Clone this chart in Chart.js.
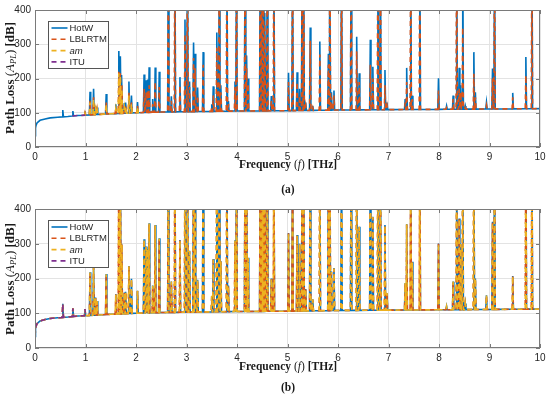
<!DOCTYPE html>
<html><head><meta charset="utf-8">
<script src="https://cdn.jsdelivr.net/npm/chart.js@4"></script>
<style>
html,body{margin:0;padding:0;background:#fff;}
#wrap{position:relative;width:550px;height:399px;overflow:hidden;background:#fff;}
canvas{position:absolute;left:0;}
.t{position:absolute;font-family:"Liberation Serif","DejaVu Serif",serif;font-size:11.5px;color:#1a1a1a;white-space:nowrap;line-height:1;}
.t b{font-weight:bold;}
.t sub{font-size:0.65em;vertical-align:-2px;font-style:italic;}
.yt{font-size:13px;transform:translate(-50%,-50%) rotate(-90deg);}
.xt{transform:translate(-50%,-50%);}
</style></head>
<body><div id="wrap">
<canvas id="ca" width="550" height="180" style="top:0px"></canvas>
<canvas id="cb" width="550" height="180" style="top:198px"></canvas>
<div class="t yt" style="left:10px;top:78px"><b>Path Loss</b> (<i>A</i><sub>PL</sub>) <b>[dB]</b></div>
<div class="t xt" style="left:288px;top:165px"><b>Frequency</b> (<i>f</i>) <b>[THz]</b></div>
<div class="t xt" style="left:288px;top:190px"><b>(a)</b></div>
<div class="t yt" style="left:10px;top:279px"><b>Path Loss</b> (<i>A</i><sub>PL</sub>) <b>[dB]</b></div>
<div class="t xt" style="left:288px;top:367px"><b>Frequency</b> (<i>f</i>) <b>[THz]</b></div>
<div class="t xt" style="left:288px;top:388px"><b>(b)</b></div>
</div>
<script>
// ---------- data ----------
const seriesNames = ['HotW', 'LBLRTM', 'am', 'ITU'];
const xTicks = [0,1,2,3,4,5,6,7,8,9,10];
const yTicks = [0,100,200,300,400];

// smooth continuum (baseline) path loss [dB]
const baseFreq = [0,0.01,0.02,0.04,0.1,0.2,0.3,0.45,0.65,0.85,1.0,1.25,1.5,2.0,2.5,3.0,4.0,5.0,6.0,7.0,8.0,9.0,10.0];
const baseLoss = [33,55,63,70,78,82,85,87,89,92,93,95,97,100,102,103,105,106,108,109,110,111,112];

// absorption line centres [THz]
const lineFreq = [
 0.55,0.75,0.99,1.09,1.16,1.20,1.23,1.41,1.60,1.66,
 1.69,1.72,1.77,1.80,1.86,1.91,2.03,2.16,2.20,2.23,
 2.26,2.33,2.38,2.46,2.64,2.70,2.77,2.87,2.97,3.02,
 3.06,3.14,3.17,3.22,3.33,3.50,3.53,3.60,3.65,3.68,
 3.80,3.83,3.96,3.99,4.16,4.19,4.22,4.46,4.49,4.52,
 4.55,4.60,4.68,4.73,5.02,5.10,5.19,5.24,5.29,5.32,
 5.36,5.45,5.50,5.64,5.81,5.84,5.87,5.92,6.07,6.26,
 6.37,6.42,6.64,6.69,6.79,6.84,6.93,6.97,7.33,7.36,
 7.44,7.47,7.62,7.99,8.15,8.28,8.35,8.40,8.43,8.47,
 8.52,8.69,8.72,8.94,9.06,9.10,9.46,9.72,9.84];

// peak path loss at each line [dB] (values above 400 are off-scale)
// panel (a)
const hotwA = [
 108,105,104,161,170,120,115,155,125,280,
 265,210,128,130,191,150,131,212,195,197,
 233,140,232,220,600,148,600,204,372,600,
 191,305,272,174,277,125,177,334,600,180,
 600,134,191,600,600,267,200,600,600,600,
 391,600,149,600,217,600,218,170,600,600,
 130,349,120,308,272,600,160,165,600,600,
 322,215,313,234,600,600,225,130,140,231,
 600,150,600,201,120,150,600,231,180,600,
 120,277,160,130,229,600,158,263,600];
const lblA = [
 null,null,100,135,145,112,110,130,115,220,
 215,180,118,120,160,130,120,170,160,165,
 180,125,190,175,600,135,600,180,330,600,
 175,260,230,150,240,118,150,290,600,160,
 600,125,175,600,600,230,185,600,600,600,
 360,600,135,600,190,600,190,150,600,600,
 122,310,115,270,240,600,145,150,600,600,
 280,190,240,200,600,600,180,122,130,190,
 600,140,600,165,115,140,600,170,160,350,
 115,214,145,122,200,600,145,210,600];
const amA = [
 null,null,99,130,140,110,108,125,112,215,
 205,170,115,118,150,125,118,null,null,null,
 null,null,null,null,null,null,null,null,null,null,
 null,null,null,null,null,null,null,null,null,null,
 null,null,null,null,null,null,null,null,null,null,
 null,null,null,null,null,null,null,null,null,null,
 null,null,null,null,null,null,null,null,null,null,
 null,null,null,null,null,null,null,null,null,null,
 null,null,null,null,null,null,null,null,null,null,
 null,null,null,null,null,null,null,null,null];
const ituA = [
 null,null,null,null,null,null,null,null,null,null,
 null,null,null,null,null,null,null,null,null,null,
 null,null,null,null,null,null,null,null,null,null,
 null,null,null,null,null,null,null,null,null,null,
 null,null,null,null,null,null,null,null,null,null,
 null,null,null,null,null,null,null,null,null,null,
 null,null,null,null,null,null,null,null,null,null,
 null,null,null,null,null,null,null,null,null,null,
 null,null,null,null,null,null,null,null,null,null,
 null,null,null,null,null,null,null,null,null];
// panel (b)
const hotwB = [
 127,114,112,218,234,145,135,213,155,600,
 600,300,160,162,236,199,165,313,292,285,
 359,180,354,316,600,191,600,311,600,600,
 280,600,600,196,600,150,256,600,600,250,
 600,180,310,600,600,600,260,600,600,600,
 600,600,200,600,331,600,325,300,600,600,
 170,600,140,600,600,600,220,230,600,600,
 600,349,600,378,600,600,354,158,187,357,
 600,248,600,301,120,191,600,373,300,600,
 128,600,200,152,363,600,207,600,600];
const lblB = [
 126,114,112,216,232,144,134,211,154,600,
 600,298,158,160,234,198,164,312,290,284,
 357,178,352,314,600,190,600,309,600,600,
 278,600,600,194,600,149,254,600,600,248,
 600,178,308,600,600,600,258,600,600,600,
 600,600,198,600,330,600,323,298,600,600,
 168,600,139,600,600,600,218,228,600,600,
 600,348,600,376,600,600,352,157,186,355,
 600,246,600,300,119,190,600,371,298,600,
 127,600,198,151,361,600,206,600,600];
const amB = [
 127,115,112,217,233,145,135,212,155,600,
 600,299,159,161,235,199,165,313,291,285,
 358,179,353,315,600,191,600,310,600,600,
 279,600,600,195,600,150,255,600,600,249,
 600,179,309,600,600,600,259,600,600,600,
 600,600,199,600,331,600,324,299,600,600,
 169,600,140,600,600,600,219,229,600,600,
 600,349,600,377,600,600,353,158,187,356,
 600,247,600,301,120,191,600,372,299,600,
 128,600,199,152,362,600,207,600,600];
const ituB = [
 127,114,112,null,null,null,null,null,null,null,
 null,null,null,null,null,null,null,null,null,null,
 null,null,null,null,null,null,null,null,null,null,
 null,null,null,null,null,null,null,null,null,null,
 null,null,null,null,null,null,null,null,null,null,
 null,null,null,null,null,null,null,null,null,null,
 null,null,null,null,null,null,null,null,null,null,
 null,null,null,null,null,null,null,null,null,null,
 null,null,null,null,null,null,null,null,null,null,
 null,null,null,null,null,null,null,null,null];

// frequency span [THz] covered by each series in each panel
const spanA = {HotW:[0,10], LBLRTM:[0.98,10], am:[0.98,2.06], ITU:[0.74,1.0]};
const spanB = {HotW:[0,10], LBLRTM:[0,10], am:[0,10], ITU:[0,1.0]};

// ---------- drawing ----------
const COLORS = {HotW:'#0072BD', LBLRTM:'#D95319', am:'#EDB120', ITU:'#7E2F8E'};
const DASH = {HotW:[], LBLRTM:[5,4], am:[5,4], ITU:[5,4]};
const HW = 0.013;

function baseAt(f){
  for(let i=1;i<baseFreq.length;i++){
    if(f<=baseFreq[i]){
      const t=(f-baseFreq[i-1])/(baseFreq[i]-baseFreq[i-1]);
      return baseLoss[i-1]+t*(baseLoss[i]-baseLoss[i-1]);
    }
  }
  return baseLoss[baseLoss.length-1];
}
function buildSeries(peaks, span){
  const lo=span[0], hi=span[1];
  const pts=[];
  const active=[];
  lineFreq.forEach((f,i)=>{ if(peaks[i]!=null && f>=lo && f<=hi) active.push(i); });
  baseFreq.forEach((f,i)=>{
    if(f<lo||f>hi) return;
    if(active.some(j=>Math.abs(lineFreq[j]-f)<=HW*1.5)) return;
    pts.push({x:f,y:baseLoss[i]});
  });
  active.forEach(i=>{
    const f=lineFreq[i];
    pts.push({x:f-HW,y:baseAt(f-HW)},{x:f,y:peaks[i]},{x:f+HW,y:baseAt(f+HW)});
  });
  if(!pts.some(p=>p.x===lo)) pts.push({x:lo,y:baseAt(lo)});
  if(!pts.some(p=>p.x===hi)) pts.push({x:hi,y:baseAt(hi)});
  pts.sort((a,b)=>a.x-b.x);
  return pts;
}

const framePlugin = {
  id:'frameLegend',
  afterDraw(chart){
    const ctx=chart.ctx, a=chart.chartArea;
    ctx.save();
    ctx.strokeStyle='#7a7a7a'; ctx.lineWidth=1; ctx.setLineDash([]);
    const xs=chart.scales.x, ys=chart.scales.y;
    ctx.beginPath();
    xTicks.forEach(v=>{ const px=Math.round(xs.getPixelForValue(v))+0.5;
      ctx.moveTo(px,a.bottom); ctx.lineTo(px,a.bottom-4); ctx.moveTo(px,a.top); ctx.lineTo(px,a.top+4); });
    yTicks.forEach(v=>{ const py=Math.round(ys.getPixelForValue(v))+0.5;
      ctx.moveTo(a.left,py); ctx.lineTo(a.left+4,py); ctx.moveTo(a.right,py); ctx.lineTo(a.right-4,py); });
    ctx.stroke();
    ctx.strokeRect(Math.round(a.left)+0.5, Math.round(a.top)+0.5, Math.round(a.right-a.left)-1, Math.round(a.bottom-a.top)-1);
    const x0=Math.round(a.left)+13.5, y0=Math.round(a.top)+11.5, w=60, h=47;
    ctx.fillStyle='#fff'; ctx.fillRect(x0,y0,w,h);
    ctx.strokeStyle='#555'; ctx.strokeRect(x0,y0,w,h);
    const rows=[6.5,17.8,29.1,40.4];
    seriesNames.forEach((n,i)=>{
      const y=y0+rows[i];
      ctx.strokeStyle=COLORS[n]; ctx.lineWidth=1.6; ctx.setLineDash(DASH[n]);
      ctx.beginPath(); ctx.moveTo(x0+3,y); ctx.lineTo(x0+19,y); ctx.stroke();
      ctx.setLineDash([]);
      ctx.fillStyle='#262626';
      ctx.font=(n==='am'?'italic ':'')+'9.5px "Liberation Sans", Arial, sans-serif';
      ctx.textBaseline='middle'; ctx.textAlign='left';
      ctx.fillText(n, x0+21, y+0.5);
    });
    ctx.restore();
  }
};

function makeChart(id, peaksMap, span, padTop, plotBottom){
  const canvasH=180;
  const order={HotW:4,LBLRTM:3,am:2,ITU:1};
  const datasets=seriesNames.map(n=>({
    label:n,
    data:buildSeries(peaksMap[n], span[n]),
    borderColor:COLORS[n],
    borderWidth:1.6,
    borderDash:DASH[n],
    pointRadius:0,
    fill:false,
    tension:0,
    order:order[n]
  }));
  const tickFont={family:'"Liberation Sans", Arial, sans-serif', size:10};
  return new Chart(document.getElementById(id),{
    type:'line',
    data:{datasets},
    options:{
      responsive:false, animation:false, events:[],
      layout:{padding:{top:padTop,right:10,left:0,bottom:0}},
      plugins:{legend:{display:false},tooltip:{enabled:false}},
      scales:{
        x:{type:'linear',min:0,max:10,
           afterBuildTicks:s=>{s.ticks=xTicks.map(v=>({value:v}));},
           ticks:{font:tickFont,color:'#262626',padding:4,maxRotation:0,autoSkip:false},
           grid:{color:'#e3e3e3',drawTicks:false},
           border:{display:false},
           afterFit:s=>{s.height=canvasH-plotBottom;}},
        y:{type:'linear',min:0,max:400,
           afterBuildTicks:s=>{s.ticks=yTicks.map(v=>({value:v}));},
           ticks:{font:tickFont,color:'#262626',padding:4},
           grid:{color:'#e3e3e3',drawTicks:false},
           border:{display:false},
           afterFit:s=>{s.width=35;}}
      }
    },
    plugins:[framePlugin]
  });
}

makeChart('ca', {HotW:hotwA, LBLRTM:lblA, am:amA, ITU:ituA}, spanA, 7, 147);
makeChart('cb', {HotW:hotwB, LBLRTM:lblB, am:amB, ITU:ituB}, spanB, 11, 150);
</script>
</body></html>
